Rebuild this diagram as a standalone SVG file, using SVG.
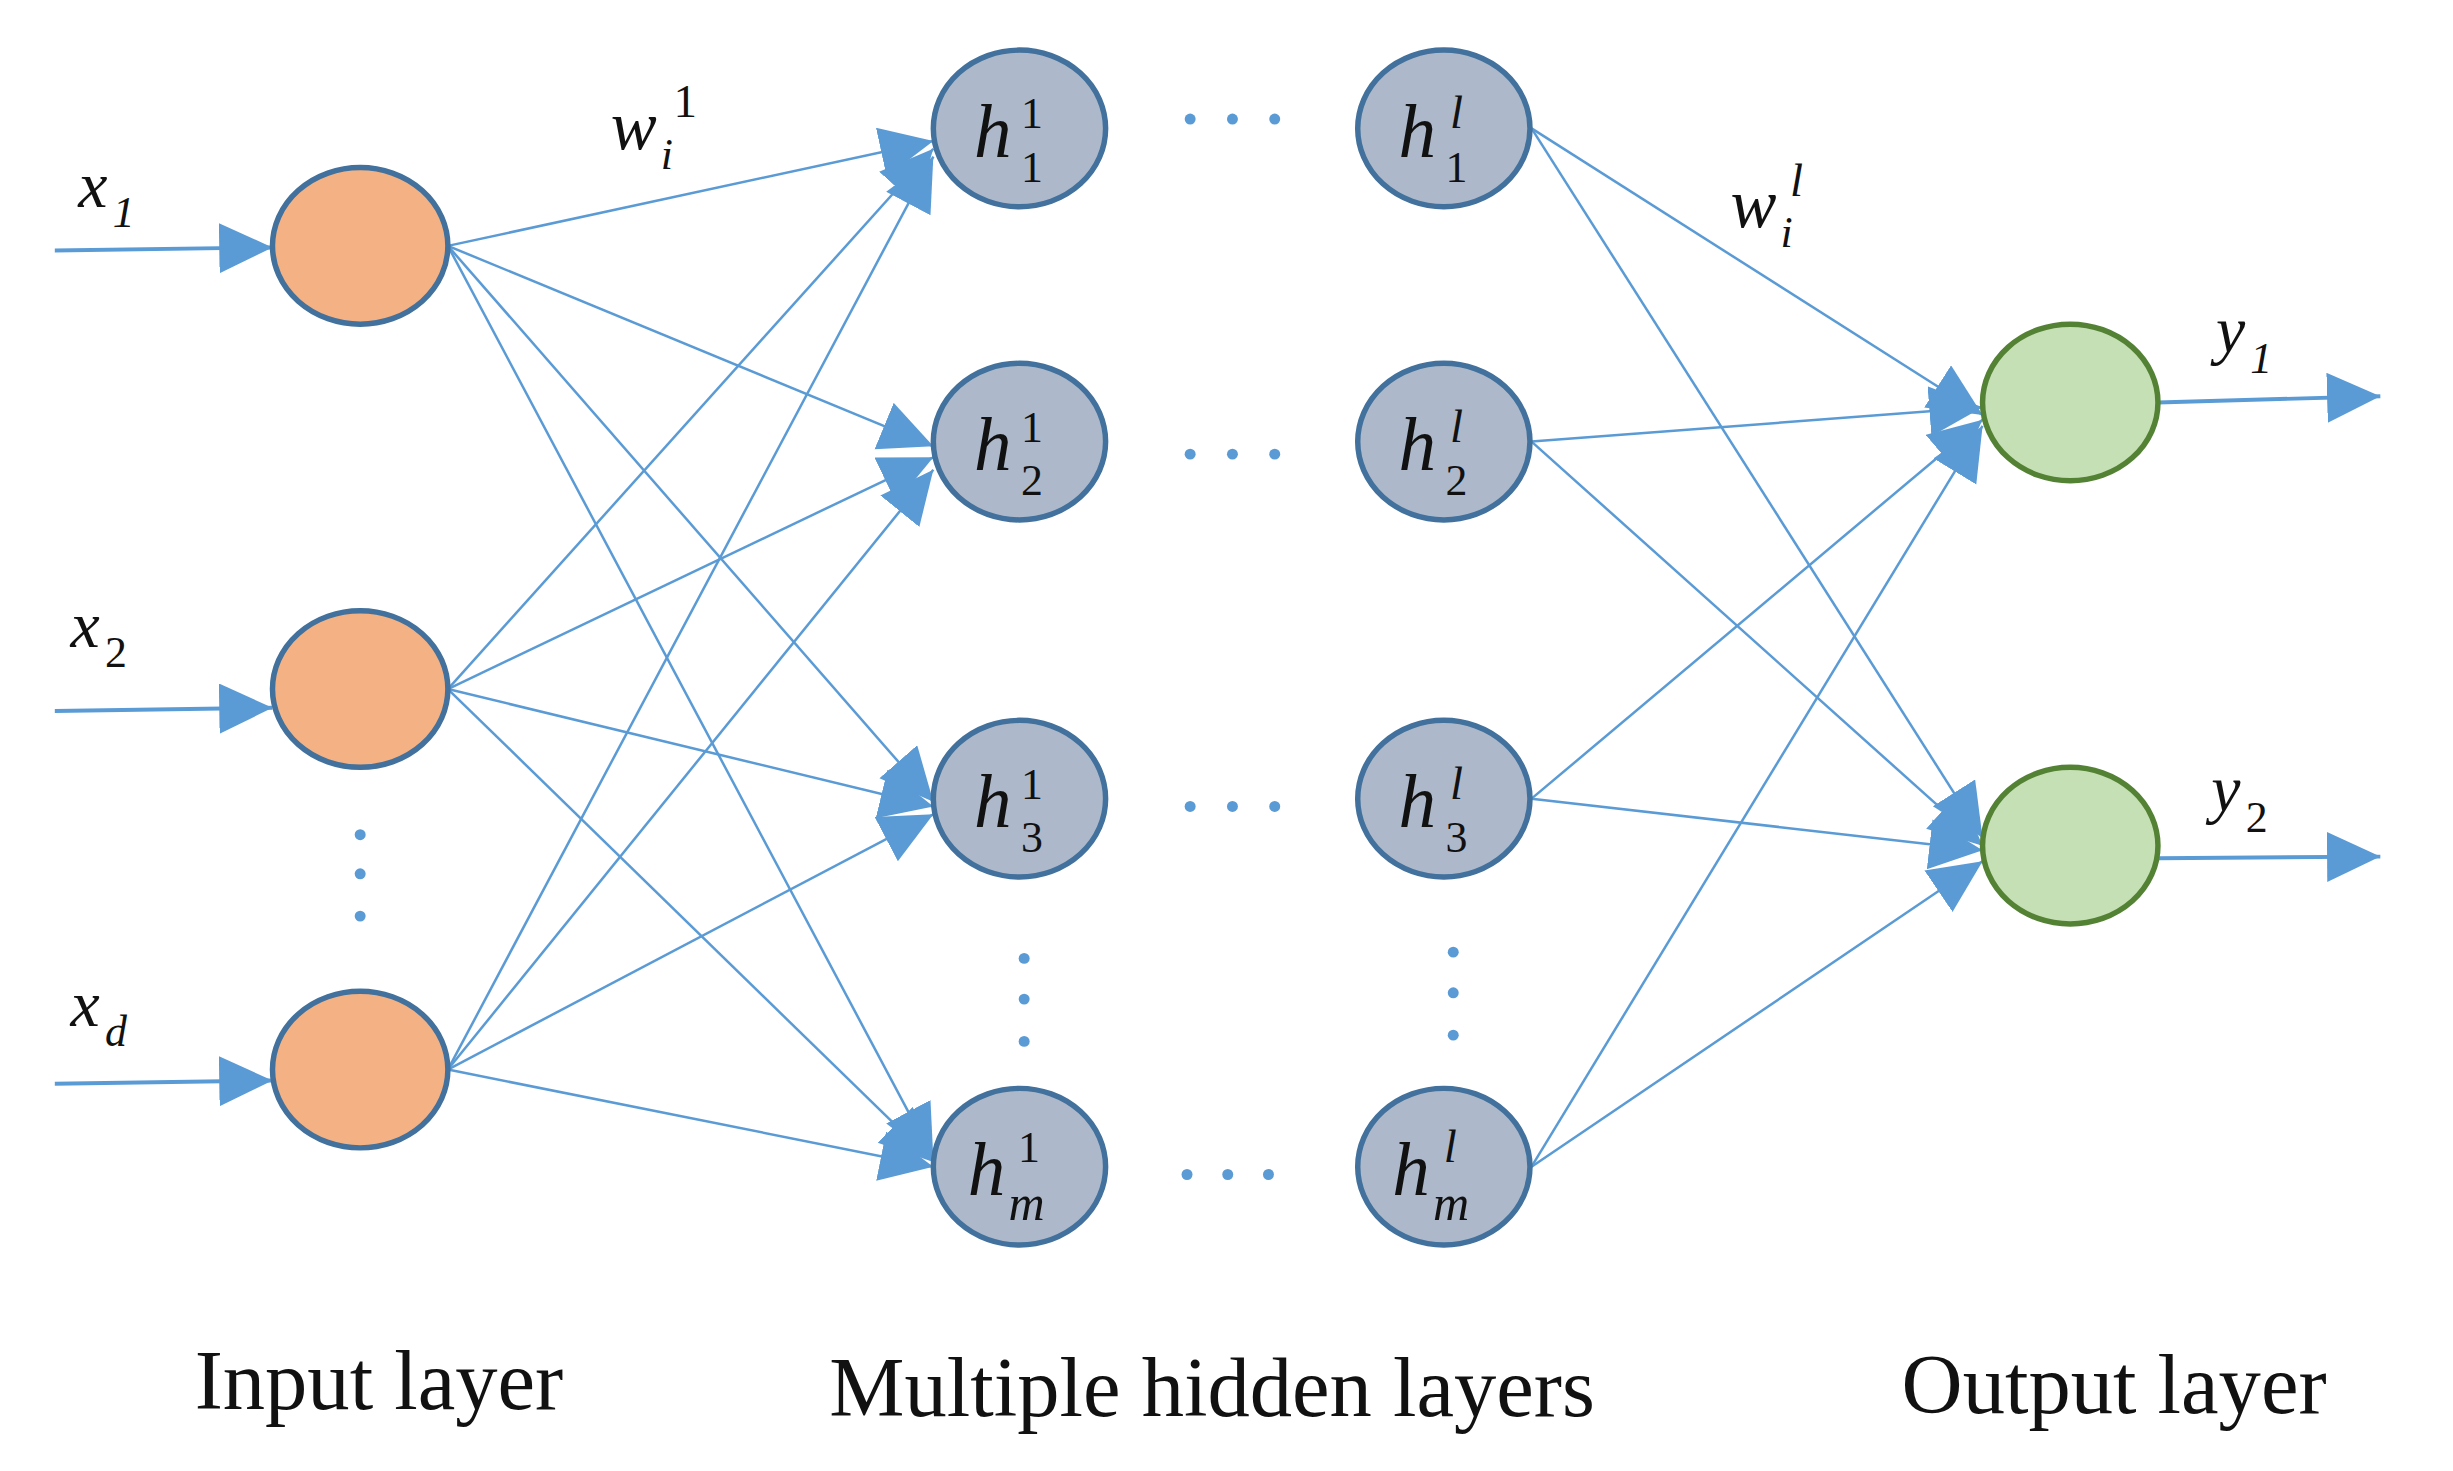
<svg xmlns="http://www.w3.org/2000/svg" width="2453" height="1471" viewBox="0 0 2453 1471">
<style>
.c{stroke:#5b9bd5;stroke-width:1.6;fill:none}
.in{fill:#f4b183;stroke:#41719c;stroke-width:3.5}
.hd{fill:#adb9ca;stroke:#41719c;stroke-width:3.5}
.out{fill:#c5e0b4;stroke:#548235;stroke-width:3.5}
.t{font-family:"Liberation Serif",serif;font-style:italic;fill:#111}
.n{font-family:"Liberation Serif",serif;fill:#111}
.b{font-family:"Liberation Serif",serif;font-size:54px;fill:#111}
.d{fill:#5b9bd5}
</style>
<defs>
<marker id="a" markerUnits="userSpaceOnUse" markerWidth="40" markerHeight="36" refX="34" refY="16" orient="auto"><path d="M0,0 L34,16 L0,32 z" fill="#5b9bd5"/></marker>
</defs>
<rect width="2453" height="1471" fill="#fff"/>
<g transform="scale(1.566,1.566)">
<g id="connectors" class="c" marker-end="url(#a)">
<line x1="35" y1="160" x2="174" y2="158" stroke-width="2.5"/>
<line x1="35" y1="454" x2="174" y2="452" stroke-width="2.5"/>
<line x1="35" y1="692" x2="174" y2="690" stroke-width="2.5"/>
<line x1="1378" y1="257" x2="1520" y2="253" stroke-width="2.5"/>
<line x1="1378" y1="548" x2="1520" y2="547" stroke-width="2.5"/>
<line x1="286" y1="157" x2="596" y2="90"/>
<line x1="286" y1="157" x2="596" y2="285"/>
<line x1="286" y1="157" x2="596" y2="512"/>
<line x1="286" y1="157" x2="596" y2="740"/>
<line x1="286" y1="440" x2="596" y2="95"/>
<line x1="286" y1="440" x2="596" y2="292"/>
<line x1="286" y1="440" x2="596" y2="515"/>
<line x1="286" y1="440" x2="596" y2="742"/>
<line x1="286" y1="683" x2="596" y2="100"/>
<line x1="286" y1="683" x2="596" y2="300"/>
<line x1="286" y1="683" x2="596" y2="520"/>
<line x1="286" y1="683" x2="596" y2="745"/>
<line x1="978" y1="82" x2="1266" y2="265"/>
<line x1="978" y1="82" x2="1266" y2="535"/>
<line x1="978" y1="282" x2="1266" y2="260"/>
<line x1="978" y1="282" x2="1266" y2="540"/>
<line x1="978" y1="510" x2="1266" y2="268"/>
<line x1="978" y1="510" x2="1266" y2="543"/>
<line x1="978" y1="745" x2="1266" y2="272"/>
<line x1="978" y1="745" x2="1266" y2="550"/>
</g>
<g id="input1"><ellipse class="in" cx="230" cy="157" rx="56" ry="50"/></g>
<g id="input2"><ellipse class="in" cx="230" cy="440" rx="56" ry="50"/></g>
<g id="inputd"><ellipse class="in" cx="230" cy="683" rx="56" ry="50"/></g>
<g id="h11"><ellipse class="hd" cx="651" cy="82" rx="55" ry="50"/><text class="t" x="622" y="100" font-size="48">h</text><text class="n" x="652" y="82" font-size="28">1</text><text class="n" x="652" y="116" font-size="28">1</text></g>
<g id="h12"><ellipse class="hd" cx="651" cy="282" rx="55" ry="50"/><text class="t" x="622" y="300" font-size="48">h</text><text class="n" x="652" y="282" font-size="28">1</text><text class="n" x="652" y="316" font-size="28">2</text></g>
<g id="h13"><ellipse class="hd" cx="651" cy="510" rx="55" ry="50"/><text class="t" x="622" y="528" font-size="48">h</text><text class="n" x="652" y="510" font-size="28">1</text><text class="n" x="652" y="544" font-size="28">3</text></g>
<g id="h1m"><ellipse class="hd" cx="651" cy="745" rx="55" ry="50"/><text class="t" x="618" y="763" font-size="48">h</text><text class="n" x="650" y="742" font-size="28">1</text><text class="t" x="644" y="779" font-size="32">m</text></g>
<g id="hl1"><ellipse class="hd" cx="922" cy="82" rx="55" ry="50"/><text class="t" x="893" y="100" font-size="48">h</text><text class="t" x="926" y="82" font-size="30">l</text><text class="n" x="923" y="116" font-size="28">1</text></g>
<g id="hl2"><ellipse class="hd" cx="922" cy="282" rx="55" ry="50"/><text class="t" x="893" y="300" font-size="48">h</text><text class="t" x="926" y="282" font-size="30">l</text><text class="n" x="923" y="316" font-size="28">2</text></g>
<g id="hl3"><ellipse class="hd" cx="922" cy="510" rx="55" ry="50"/><text class="t" x="893" y="528" font-size="48">h</text><text class="t" x="926" y="510" font-size="30">l</text><text class="n" x="923" y="544" font-size="28">3</text></g>
<g id="hlm"><ellipse class="hd" cx="922" cy="745" rx="55" ry="50"/><text class="t" x="889" y="763" font-size="48">h</text><text class="t" x="922" y="742" font-size="30">l</text><text class="t" x="915" y="779" font-size="32">m</text></g>
<g id="out1"><ellipse class="out" cx="1322" cy="257" rx="56" ry="50"/></g>
<g id="out2"><ellipse class="out" cx="1322" cy="540" rx="56" ry="50"/></g>
<g id="dots" class="d">
<circle cx="760" cy="76" r="3.5"/><circle cx="787" cy="76" r="3.5"/><circle cx="814" cy="76" r="3.5"/>
<circle cx="760" cy="290" r="3.5"/><circle cx="787" cy="290" r="3.5"/><circle cx="814" cy="290" r="3.5"/>
<circle cx="760" cy="515" r="3.5"/><circle cx="787" cy="515" r="3.5"/><circle cx="814" cy="515" r="3.5"/>
<circle cx="758" cy="750" r="3.5"/><circle cx="784" cy="750" r="3.5"/><circle cx="810" cy="750" r="3.5"/>
<circle cx="230" cy="533" r="3.5"/><circle cx="230" cy="558" r="3.5"/><circle cx="230" cy="585" r="3.5"/>
<circle cx="654" cy="612" r="3.5"/><circle cx="654" cy="638" r="3.5"/><circle cx="654" cy="665" r="3.5"/>
<circle cx="928" cy="608" r="3.5"/><circle cx="928" cy="634" r="3.5"/><circle cx="928" cy="661" r="3.5"/>
</g>
<g id="labels">
<text class="t" x="50" y="132" font-size="42">x</text><text class="t" x="72" y="145" font-size="28">1</text>
<text class="t" x="45" y="413" font-size="42">x</text><text class="n" x="67" y="426" font-size="28">2</text>
<text class="t" x="45" y="655" font-size="42">x</text><text class="t" x="67" y="668" font-size="28">d</text>
<text class="t" x="390" y="95" font-size="44">w</text><text class="t" x="422" y="108" font-size="28">i</text><text class="n" x="430" y="75" font-size="30">1</text>
<text class="t" x="1105" y="145" font-size="44">w</text><text class="t" x="1137" y="158" font-size="28">i</text><text class="t" x="1143" y="125" font-size="30">l</text>
<text class="t" x="1415" y="225" font-size="42">y</text><text class="t" x="1437" y="238" font-size="28">1</text>
<text class="t" x="1412" y="518" font-size="42">y</text><text class="n" x="1434" y="531" font-size="28">2</text>
<text class="b" x="242" y="900" text-anchor="middle">Input layer</text>
<text class="b" x="774" y="904" text-anchor="middle">Multiple hidden layers</text>
<text class="b" x="1350" y="902" text-anchor="middle">Output layer</text>
</g>
</g>
</svg>
